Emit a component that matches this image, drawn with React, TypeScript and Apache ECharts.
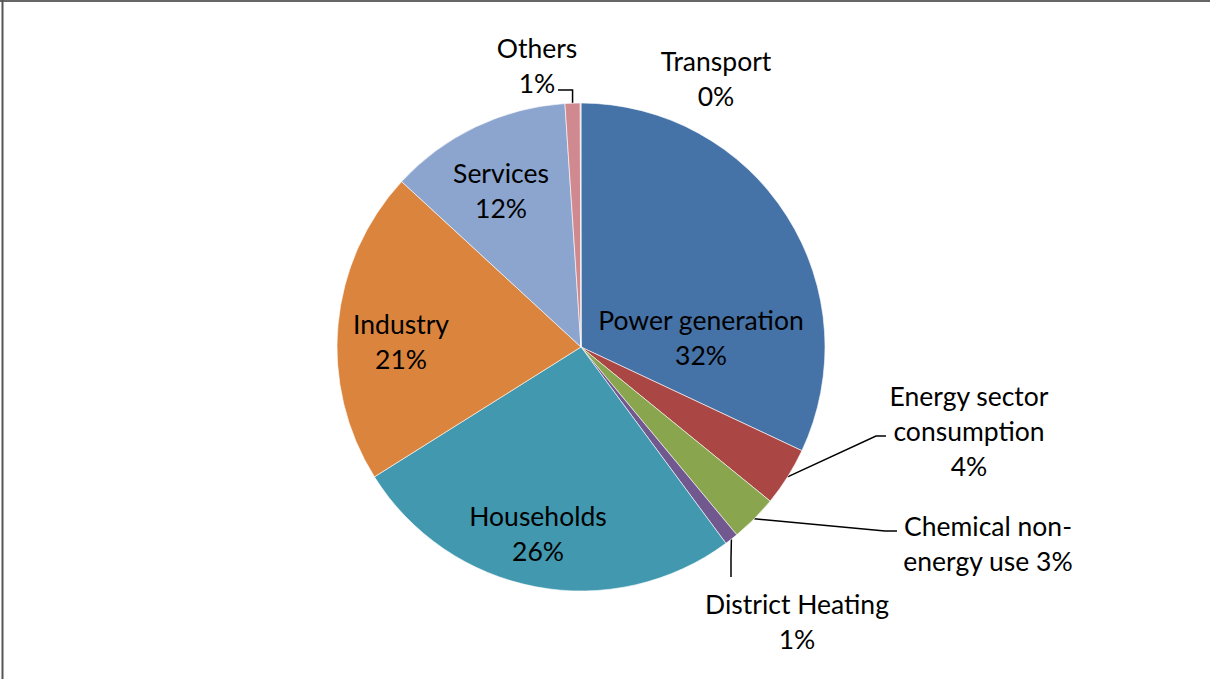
import React, { useEffect, useRef } from "react";
import * as echarts from "echarts";

const categories = [
  "Power generation",
  "Energy sector consumption",
  "Chemical non-energy use",
  "District Heating",
  "Households",
  "Industry",
  "Services",
  "Others",
  "Transport",
];
const values = [32.0, 3.9, 3.1, 0.9, 26.2, 20.8, 12.1, 1.0, 0.05];
const labelNames = [
  "Power generation",
  "Energy sector\nconsumption",
  "Chemical non-\nenergy use",
  "District Heating",
  "Households",
  "Industry",
  "Services",
  "Others",
  "Transport",
];
const labelSeparators = ["\n", "\n", " ", "\n", "\n", "\n", "\n", "\n", "\n"];
const colors = [
  "#4572A7",
  "#AA4643",
  "#89A54E",
  "#71588F",
  "#4198AF",
  "#DB843D",
  "#8CA5CF",
  "#D0898F",
  "#B9CD96",
];
const outside = [false, true, true, true, false, false, false, true, true];
const showLine = [false, true, true, true, false, false, false, true, false];
// label block centres (layout only)
const labelPos: [number, number][] = [
  [701, 337],
  [969, 431],
  [988, 543],
  [797, 621],
  [538, 533],
  [401, 341],
  [501, 190],
  [537, 65],
  [716, 78],
];
// leader-line elbows (layout only): [elbow, end]
const leaderElbows: ([number, number] | null)[][] = [
  [],
  [[876, 436], [886, 436]],
  [[885, 531], [897, 531]],
  [null, [731, 577]],
  [],
  [],
  [],
  [null, [558, 90]],
  [],
];

export default function App() {
  const ref = useRef<HTMLDivElement>(null);
  useEffect(() => {
    if (!ref.current) return;
    const chart = echarts.init(ref.current, null, { renderer: "svg" });
    chart.setOption({
      animation: false,
      backgroundColor: "#ffffff",
      textStyle: { fontFamily: "Lato" },
      graphic: [
        { type: "line", shape: { x1: 0, y1: 1, x2: 1210, y2: 1 }, style: { stroke: "#666", lineWidth: 2 } },
        { type: "line", shape: { x1: 2.5, y1: 0, x2: 2.5, y2: 679 }, style: { stroke: "#555", lineWidth: 2 } },
      ],
      series: [
        {
          type: "pie",
          center: [581, 347],
          radius: 244,
          startAngle: 90,
          clockwise: true,
          avoidLabelOverlap: false,
          itemStyle: { borderColor: "#ffffff", borderWidth: 0.6 },
          data: categories.map((name, i) => ({
            name,
            value: values[i],
            itemStyle: { color: colors[i] },
            label: { position: outside[i] ? "outside" : "inside" },
            labelLine: { show: showLine[i] },
          })),
          label: {
            show: true,
            color: "#000",
            fontFamily: "Lato",
            fontSize: 26.5,
            lineHeight: 35,
            align: "center",
            formatter: (p: any) =>
              labelNames[p.dataIndex] + labelSeparators[p.dataIndex] + Math.round(p.percent) + "%",
          },
          labelLine: {
            show: true,
            length: 15,
            length2: 10,
            lineStyle: { color: "#000", width: 1.5 },
          },
          labelLayout: (params: any) => {
            const i = params.dataIndex;
            const pos = labelPos[i];
            const out: any = { x: pos[0], y: pos[1], align: "center", verticalAlign: "middle" };
            const el = leaderElbows[i];
            const pts = params.labelLinePoints;
            if (el && el.length && pts && pts.length) {
              const p0 = pts[0];
              const end = el[1] as [number, number];
              if (i === 3) {
                out.labelLinePoints = [[p0[0], p0[1]], [end[0], (p0[1] + end[1]) / 2], [end[0], end[1]]];
              } else if (i === 7) {
                out.labelLinePoints = [[p0[0], p0[1]], [p0[0], end[1]], [end[0], end[1]]];
              } else {
                out.labelLinePoints = [[p0[0], p0[1]], el[0], end];
              }
            }
            return out;
          },
        },
      ],
    });
    return () => chart.dispose();
  }, []);
  return (
    <div
      ref={ref}
      style={{ position: "fixed", left: 0, top: 0, width: 1210, height: 679 }}
    />
  );
}
